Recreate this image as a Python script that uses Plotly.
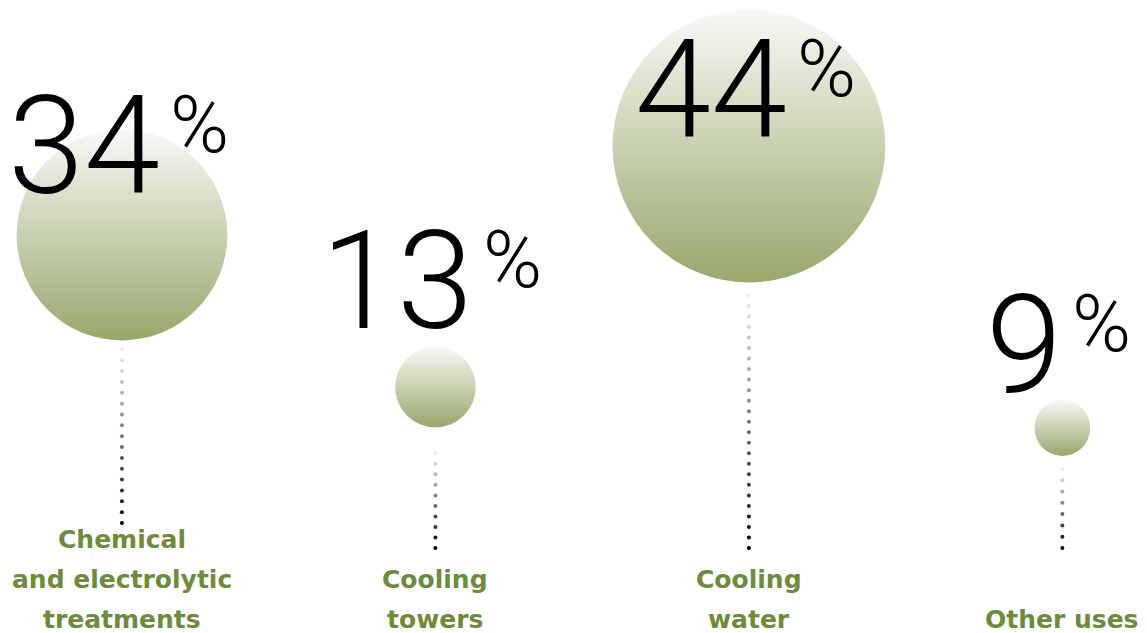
import plotly.graph_objects as go

# ---- data ----
categories = ["Chemical and electrolytic treatments", "Cooling towers", "Cooling water", "Other uses"]
label_lines = [["Chemical", "and electrolytic", "treatments"], ["Cooling", "towers"], ["Cooling", "water"], ["Other uses"]]
values = [34, 13, 44, 9]

# ---- layout constants (pixels, y measured from top) ----
W, H = 1147, 633
BUBBLE_Y = [235, 387, 146, 428]
NUM_Y = [146, 281, 90, 345]
LINE_END = [523, 548, 548, 548]
LINE_GAP = [9, 26, 13, 13]
DIAM_PER_PCT = 6.2
NUM_FS, PCT_FS, LBL_FS = 137, 80, 25
LABEL_BOTTOM, LABEL_STEP = 619, 40
GREEN = "#6d8a3d"
NUM_FONT = dict(family="Roboto", size=NUM_FS, color="#000000", weight=300)
PCT_FONT = dict(family="Roboto", size=PCT_FS, color="#000000", weight=300)

fig = go.Figure()

# dotted leader lines (fading grey -> black)
for i, (cat, v) in enumerate(zip(categories, values)):
    start = BUBBLE_Y[i] + v * DIAM_PER_PCT / 2 + LINE_GAP[i]
    end = LINE_END[i]
    n = int(round((end - start) / 10.6)) + 1
    ys = [start + (end - start) * k / (n - 1) for k in range(n)]
    cols = []
    for k in range(n):
        t = k / (n - 1)
        g = int(round(238 * (1 - t)))
        cols.append(f"rgb({g},{g},{g})")
    fig.add_trace(go.Scatter(
        x=[cat] * n, y=ys, mode="markers",
        marker=dict(size=4, color=cols, line=dict(width=0)),
        hoverinfo="skip", showlegend=False))

# bubbles with vertical gradient (light top -> olive bottom)
fig.add_trace(go.Scatter(
    x=categories, y=BUBBLE_Y, mode="markers",
    marker=dict(size=[v * DIAM_PER_PCT for v in values], sizemode="diameter",
                color="#f9f9f6",
                gradient=dict(type="vertical", color="#97a86c"),
                line=dict(width=0), opacity=1),
    hoverinfo="skip", showlegend=False))

annotations = []
for i, (cat, v) in enumerate(zip(categories, values)):
    s = str(v)
    digits_w = len(s) * 0.562 * NUM_FS
    pct_w, gap = 60, 6
    block = digits_w + gap + pct_w
    right = block / 2 - pct_w - gap - 4
    annotations.append(dict(x=cat, y=NUM_Y[i], xref="x", yref="y", text=s,
                            showarrow=False, xanchor="right", yanchor="middle",
                            xshift=right, font=NUM_FONT))
    annotations.append(dict(x=cat, y=NUM_Y[i] - 21, xref="x", yref="y", text="%",
                            showarrow=False, xanchor="left", yanchor="middle",
                            xshift=right + gap, font=PCT_FONT))
    lines = label_lines[i]
    for j, ln in enumerate(lines):
        yy = LABEL_BOTTOM - LABEL_STEP * (len(lines) - 1 - j)
        annotations.append(dict(x=cat, y=yy, xref="x", yref="y", text=ln,
                                showarrow=False, xanchor="center", yanchor="middle",
                                font=dict(family="DejaVu Sans", size=LBL_FS, color=GREEN, weight="bold")))

fig.update_layout(
    width=W, height=H, margin=dict(l=0, r=0, t=0, b=0),
    paper_bgcolor="white", plot_bgcolor="white",
    xaxis=dict(type="category", range=[-0.389, 3.27], visible=False, fixedrange=True),
    yaxis=dict(range=[H, 0], visible=False, fixedrange=True),
    annotations=annotations, showlegend=False,
)

fig.write_html("out.html")
